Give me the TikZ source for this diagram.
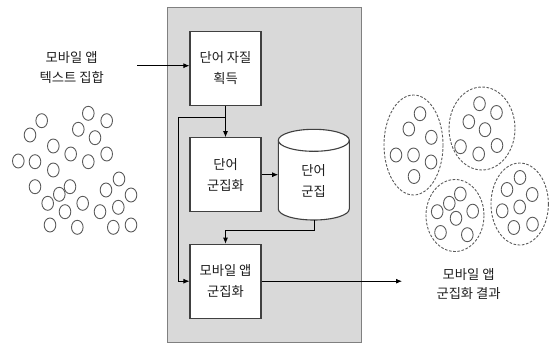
\documentclass[tikz,border=0pt]{standalone}
\usepackage{fontspec}
\setmainfont{Noto Sans CJK KR}
\usetikzlibrary{arrows.meta}
\definecolor{panelgray}{RGB}{217,217,217}
\definecolor{panelline}{RGB}{128,128,128}
\definecolor{boxline}{RGB}{64,64,64}
\definecolor{circline}{RGB}{90,90,90}
\definecolor{txt}{RGB}{30,30,30}
\tikzset{
  lbl/.style={align=center, text=txt, font=\fontsize{13.3pt}{20.5pt}\selectfont, inner sep=0pt},
  procbox/.style={draw=boxline, line width=1.1pt, fill=white, minimum width=71pt, minimum height=74pt,
    inner sep=0pt, align=center, text=txt, font=\fontsize{13.3pt}{21pt}\selectfont},
  conn/.style={draw=black, line width=0.8pt, -{Latex[length=6pt,width=5pt]}},
  item/.style={draw=circline, line width=0.9pt},
  group/.style={draw=circline, line width=0.9pt, dash pattern=on 2.6pt off 1.6pt},
}
\begin{document}
\begin{tikzpicture}[x=1pt,y=-1pt]
\useasboundingbox (0,0) rectangle (551,343);
% panel
\draw[fill=panelgray, draw=panelline, line width=1pt] (167,7) rectangle (361,342);

% input text
\node[lbl] (intext) at (71.7,67.3) {모바일 앱\\텍스트 집합};
\coordinate (instart) at (137,65.7);

% boxes
\node[procbox] (b1) at (225.5,68.3) {단어 자질\\획득};
\node[procbox] (b2) at (225.5,174.7) {단어\\군집화};
\node[procbox] (b3) at (225.5,281.2) {모바일 앱\\군집화};

% cylinder
\node[minimum width=71pt, minimum height=90.7pt, inner sep=0pt] (cyl) at (313.8,174.65) {};
\filldraw[fill=white, draw=boxline, line width=1.1pt]
  (278.3,140.3) -- (278.3,209) arc[start angle=180, end angle=0, x radius=35.5, y radius=11]
  -- (349.3,140.3) arc[start angle=0, end angle=-180, x radius=35.5, y radius=11] -- cycle;
\draw[draw=boxline, line width=1.1pt] (278.3,140.3) arc[start angle=180, end angle=0, x radius=35.5, y radius=11];
\node[lbl, font=\fontsize{13.3pt}{21pt}\selectfont] (cyltext) at (313.5,181.2) {단어\\군집};

% connectors
\draw[conn] (instart) -- (b1.west |- instart);
\draw[conn] (b1.south) -- (b2.north);
\coordinate (split) at (226,117.3);
\coordinate (leftrun) at (178.3,117.3);
\draw[conn] (split) -- (leftrun) -- (leftrun |- b3.west) -- (b3.west);
\draw[conn] (b2.east) -- (cyl.west |- b2.east);
\coordinate (cylturn) at (314,230);
\draw[conn] (cyl.south -| cylturn) -- (cylturn) -- (cylturn -| b3.north) -- (b3.north);
\coordinate (outend) at (402,281.2);
\draw[conn] (b3.east) -- (outend);

% output text
\node[lbl, font=\fontsize{13.3pt}{19pt}\selectfont] (outtext) at (468.6,284.5) {모바일 앱\\군집화 결과};

% left scattered items
\foreach \p in {(41.7,120.7),(88.3,113.3),(106.7,120.7),(30,135),(78.3,129.3),(95,137.7),(53.3,146),(70.7,154),(106.7,154),(18.3,161),(35,161.7),(88.3,161.7),(53.3,170),(35,186.7),(70,186.7),(59.3,194.3),(47.7,203.3),(65,211.7),(82.7,203.3),(119,179),(106,190),(131,195),(118.3,207.3),(100,211.7),(50,225),(77.3,227.3),(113.3,227.3),(131,225)}
  \draw[item] \p ellipse [x radius=5.8, y radius=7];

% groups
\draw[group] (413.5,145) ellipse [x radius=29.5, y radius=50];
\draw[group] (482,128.5) ellipse [x radius=33, y radius=41.5];
\draw[group] (455,215.5) ellipse [x radius=29, y radius=36];
\draw[group] (519.7,204) ellipse [x radius=28.7, y radius=41];

\foreach \p in {(420,113.7),(408.8,129),(431.3,137.3),(396,155),(413.5,155),(431,162),(414,176.5),
  (479.5,103.7),(496.5,112.5),(468.8,121.7),(485,129.7),(497,145.5),(460.5,146.7),(478.7,154),
  (460.3,194),(449.3,203.3),(437.2,211.7),(472.7,211.2),(456,218.3),(440.5,232.5),(467.3,234.7),
  (520,177.5),(507,189.5),(532.2,194.5),(519.7,207),(502.2,210.8),(513.8,227.5),(532.5,224.2)}
  \draw[item] \p ellipse [x radius=5.8, y radius=7];
\end{tikzpicture}
\end{document}
